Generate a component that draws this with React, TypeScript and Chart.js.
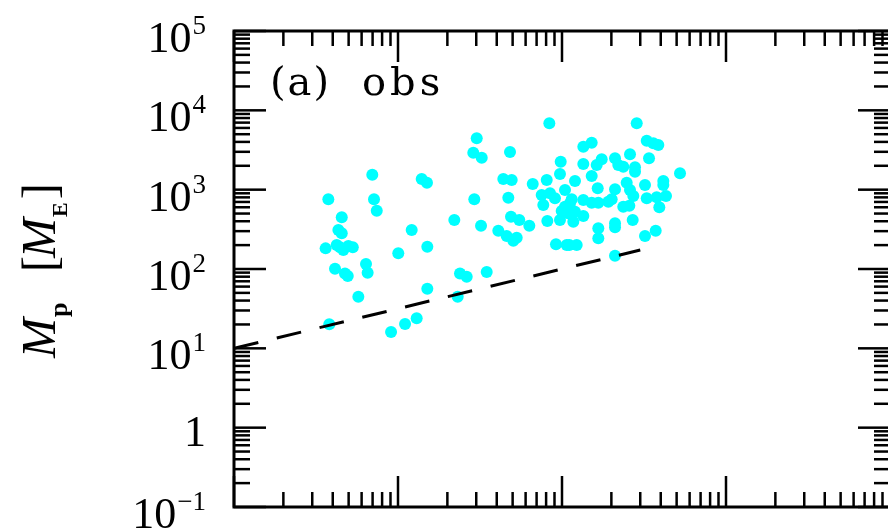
import React, { useEffect, useRef } from 'react';
import { Chart, registerables } from 'chart.js';

Chart.register(...registerables);

// semi-major axis [AU] and planet mass [Earth masses] of observed planets
const semiMajorAU = [
  0.0697, 0.0376, 0.0714, 0.0742, 0.1395, 0.1502, 0.0454, 0.0433, 0.0454, 0.1212,
  0.2205, 0.0362, 0.0423, 0.0464, 0.0498, 0.0530, 0.0443, 0.1004, 0.1509, 0.0413,
  0.0475, 0.0494, 0.0638, 0.0653, 0.2388, 0.2624, 0.1509, 0.0573, 0.2312, 0.0381,
  0.130, 0.1104, 0.0907, 0.837, 0.302, 0.2878, 0.324, 0.4819, 0.982, 0.972,
  0.4386, 0.4935, 0.663, 0.807, 0.4706, 0.2919, 0.752, 0.845, 0.906, 0.769,
  1.043, 0.3208, 0.4887, 0.549, 0.632, 0.814, 0.972, 0.4089, 0.46, 0.5294,
  0.5047, 0.919, 1.068, 0.3475, 2.855, 3.286, 3.604, 3.866, 1.349, 1.517,
  1.349, 1.746, 1.628, 2.105, 2.204, 2.364, 2.598, 2.787, 2.787, 3.393,
  5.243, 1.517, 1.2, 2.48, 2.598, 2.722, 3.207, 4.147, 4.147, 1.651,
  2.105, 2.009, 1.146, 1.119, 1.043, 0.996, 1.349, 1.517, 1.665, 1.916,
  3.286, 3.779, 4.306, 2.364, 2.573, 3.921, 1.089, 1.2, 1.349,
  1.172, 2.105, 2.105, 2.698, 1.665, 1.665, 3.207, 3.726, 1.108, 1.229, 2.105,
];
const massEarth = [
  1544, 756, 756, 543, 1363, 1224, 448, 310, 282, 310,
  414, 182, 201, 174, 195, 188, 188, 158, 191, 101,
  88, 81.6, 116, 89.8, 88, 80, 56.4, 44.7, 44.7, 20.1,
  23.9, 20.3, 16.1, 6863, 4440, 2923, 2529, 2983, 2252, 1576,
  1363, 1324, 1178, 1324, 792, 756, 856, 900, 778, 641,
  990, 351, 456, 414, 351, 403, 414, 304, 261, 248,
  227, 205, 201, 91.6, 6863, 4142, 3841, 3656, 3479, 3908,
  2106, 2414, 2046, 2485, 2046, 1947, 2791, 1913, 1684, 2485,
  1608, 1487, 1286, 1224, 990, 832, 1145, 1286, 1145, 1040,
  1011, 756, 756, 673, 610, 538, 741, 685, 685, 705,
  778, 801, 832, 610, 628, 599, 504, 528, 466,
  395, 377, 335, 414, 326, 244, 261, 304, 201, 201, 147,
];

// detection limit (dashed line)
const limitA = [0.01, 3];
const limitM = [10, 173.2];

// axes
const xMin = 0.01;
const xMax = 100;
const yMin = 0.1;
const yMax = 1e5;
const xDecades = [0.01, 0.1, 1, 10, 100];
const yDecades = [0.1, 1, 10, 100, 1000, 1e4, 1e5];
const yTickBase = ['10', '1', '10', '10', '10', '10', '10'];
const yTickExp = ['\u22121', '', '1', '2', '3', '4', '5'];
const panelLabel = ['(a)', 'obs'];

const SERIF = "'Liberation Serif', 'Times New Roman', serif";
const LABEL_SERIF = "'DejaVu Serif', serif";

export default function App() {
  const ref = useRef<HTMLCanvasElement>(null);

  useEffect(() => {
    document.body.style.overflow = 'hidden';
    const canvas = ref.current;
    if (!canvas) return;

    const decor = {
      id: 'decor',
      afterDraw(chart: any) {
        const ctx = chart.ctx as CanvasRenderingContext2D;
        const xs = chart.scales.x;
        const ys = chart.scales.y;
        const { left, right, top, bottom } = chart.chartArea;
        ctx.save();
        ctx.strokeStyle = '#000';
        ctx.fillStyle = '#000';
        ctx.lineCap = 'butt';

        const seg = (x1: number, y1: number, x2: number, y2: number) => {
          ctx.beginPath();
          ctx.moveTo(x1, y1);
          ctx.lineTo(x2, y2);
          ctx.stroke();
        };

        // ticks
        ctx.lineWidth = 2.5;
        for (const base of xDecades) {
          for (let k = 1; k < 10; k++) {
            const v = base * k;
            if (v > xMax * 1.0001) break;
            const px = xs.getPixelForValue(v);
            const len = k === 1 ? 31 : 15;
            seg(px, bottom, px, bottom - len);
            seg(px, top, px, top + len);
          }
        }
        for (const base of yDecades) {
          for (let k = 1; k < 10; k++) {
            const v = base * k;
            if (v > yMax * 1.0001) break;
            const py = ys.getPixelForValue(v);
            const len = k === 1 ? 32 : 16;
            seg(left, py, left + len, py);
            seg(right, py, right - len, py);
          }
        }

        // frame
        ctx.lineWidth = 3;
        ctx.strokeRect(left, top, right - left, bottom - top);

        // y tick labels
        ctx.textBaseline = 'alphabetic';
        ctx.textAlign = 'left';
        const rightEdge = 206;
        yDecades.forEach((v, i) => {
          const py = ys.getPixelForValue(v);
          const b = yTickBase[i];
          const e = yTickExp[i];
          ctx.font = `44px ${SERIF}`;
          const wb = ctx.measureText(b).width;
          if (!e) {
            ctx.fillText(b, rightEdge - wb, py + 18);
            return;
          }
          ctx.font = `27px ${SERIF}`;
          const we = ctx.measureText(e).width;
          const x0 = rightEdge - wb - we - 1;
          ctx.font = `44px ${SERIF}`;
          ctx.fillText(b, x0, py + 21);
          ctx.font = `27px ${SERIF}`;
          ctx.fillText(e, x0 + wb + 1, py + 3);
        });

        // panel label
        ctx.font = `40px ${LABEL_SERIF}`;
        (ctx as any).letterSpacing = '2px';
        ctx.fillText(panelLabel[0], 270, 95);
        (ctx as any).letterSpacing = '4px';
        ctx.fillText(panelLabel[1], 362, 95);
        (ctx as any).letterSpacing = '0px';

        // y axis title  M_p [M_E]
        ctx.save();
        ctx.translate(55, 358);
        ctx.rotate(-Math.PI / 2);
        ctx.font = `italic 48px ${SERIF}`;
        ctx.fillText('M', 0, 0);
        const wM = ctx.measureText('M').width;
        ctx.font = `bold 26px ${SERIF}`;
        ctx.fillText('p', wM + 1, 12);
        ctx.font = `48px ${SERIF}`;
        ctx.fillText('[', 86, 0);
        ctx.font = `italic 48px ${SERIF}`;
        ctx.fillText('M', 100, 0);
        ctx.font = `bold 22px ${SERIF}`;
        ctx.fillText('E', 100 + wM + 1, 12);
        const wE = ctx.measureText('E').width;
        ctx.font = `48px ${SERIF}`;
        ctx.fillText(']', 100 + wM + 1 + wE + 3, 0);
        ctx.restore();

        ctx.restore();
      },
    };

    const chart = new Chart(canvas, {
      type: 'scatter',
      data: {
        datasets: [
          {
            type: 'line',
            data: limitA.map((a, i) => ({ x: a, y: limitM[i] })),
            borderColor: '#000',
            borderWidth: 3,
            borderDash: [25, 19],
            pointRadius: 0,
            fill: false,
            tension: 0,
            order: 0,
          } as any,
          {
            data: semiMajorAU.map((a, i) => ({ x: a, y: massEarth[i] })),
            backgroundColor: '#00FFFF',
            borderWidth: 0,
            pointRadius: 6,
            order: 1,
          },
        ],
      },
      options: {
        animation: false,
        responsive: false,
        maintainAspectRatio: false,
        devicePixelRatio: 1,
        events: [],
        layout: { padding: { left: 234, top: 31, right: 10, bottom: 25 } },
        plugins: { legend: { display: false }, tooltip: { enabled: false } },
        scales: {
          x: { type: 'logarithmic', min: xMin, max: xMax, display: false },
          y: { type: 'logarithmic', min: yMin, max: yMax, display: false },
        },
      },
      plugins: [decor],
    });
    return () => chart.destroy();
  }, []);

  return (
    <div style={{ position: 'fixed', left: 0, top: 0, width: 900, height: 532, background: '#fff' }}>
      <canvas ref={ref} width={900} height={532} style={{ width: 900, height: 532, display: 'block' }} />
    </div>
  );
}
